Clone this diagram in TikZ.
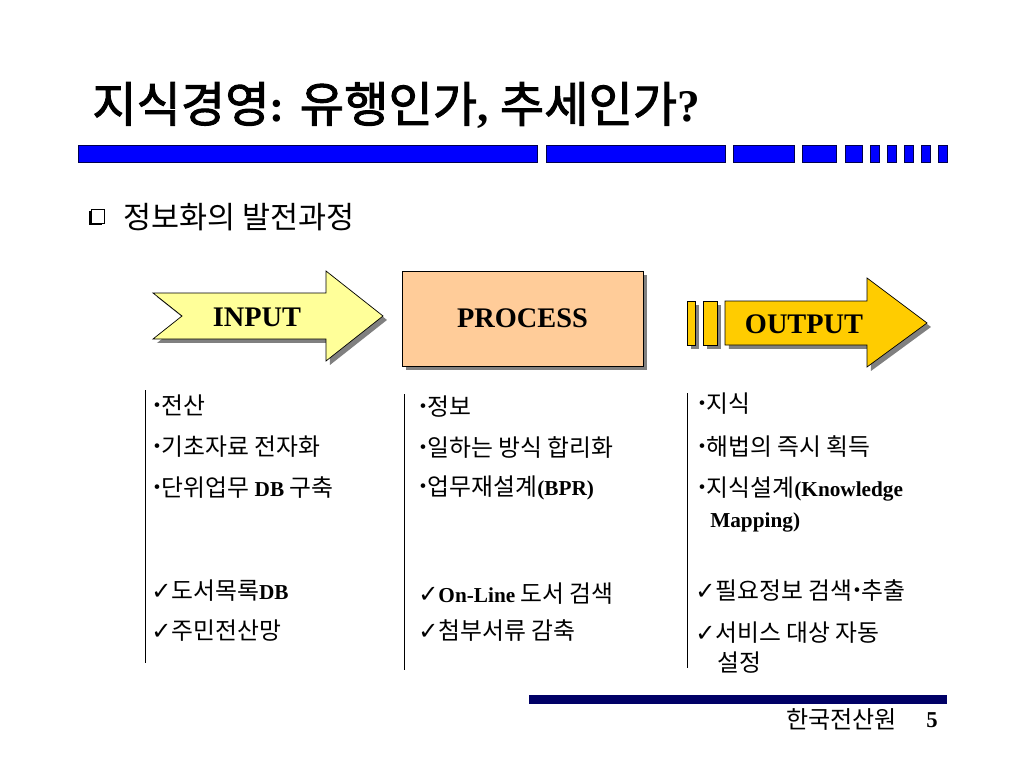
\documentclass[tikz,border=0pt]{standalone}
\usepackage{fontspec}
\setmainfont{Liberation Serif}
\newfontfamily\kr[Scale=1.12]{Noto Sans CJK KR}
\newfontfamily\krt{Noto Sans CJK KR}
\newfontfamily\krhead[FakeBold=2]{Noto Sans CJK KR}
\newfontfamily\sym{DejaVu Sans}
\usetikzlibrary{positioning,shadows}
\definecolor{inputyellow}{HTML}{FFFF99}
\definecolor{processpeach}{HTML}{FFCC99}
\definecolor{outputgold}{HTML}{FFCC00}
\definecolor{barblue}{HTML}{0000FF}
\definecolor{barnavy}{HTML}{000066}
\tikzstyle{boxshadow} = [drop shadow={shadow xshift=2.8pt, shadow yshift=-2.8pt,
    fill=black!50, opacity=1}]
\tikzstyle{arrowbody} = [draw, line width=0.5pt, boxshadow]
\tikzstyle{processbox} = [rectangle, draw, line width=0.5pt, fill=processpeach, boxshadow,
    minimum width=170pt, minimum height=67pt, inner sep=0pt,
    font=\fontsize{20}{24}\selectfont\bfseries]
\tikzstyle{flowtext} = [anchor=base, inner sep=0pt, font=\fontsize{20}{24}\selectfont\bfseries]
\tikzstyle{item} = [anchor=base west, inner sep=0pt, font=\fontsize{15}{18}\selectfont]
\tikzstyle{colline} = [draw, line width=0.7pt]
\tikzstyle{titlebar} = [fill=barblue, draw=black!70!blue, line width=0.5pt]
\newcommand{\chk}{{\sym\fontsize{17}{17}\selectfont ✓}}
\newcommand{\dt}{{\fontsize{20}{20}\selectfont\bfseries ·}}

\begin{document}
\begin{tikzpicture}[x=0.0248cm, y=-0.0248cm, node distance=1cm]
\useasboundingbox[fill=white] (0,0) rectangle (1024,768);

    % Title and bar
\node[anchor=base west, inner sep=0pt, font=\fontsize{32}{38}\selectfont] (title) at (92,122)
  {{\krhead\fontsize{34}{40}\selectfont 지식경영}\textbf{:} {\krhead\fontsize{34}{40}\selectfont 유행인가}\textbf{,}
   {\krhead\fontsize{34}{40}\selectfont 추세인가}\textbf{?}};
\foreach \a/\b in {78/537, 546/725, 733/794, 802/836, 845/862,
    870/879, 887/896, 904/913, 921/930, 938/947}
  \draw[titlebar] (\a,145) rectangle (\b,162);

    % Subtitle
\draw[fill=white, line width=0.7pt, drop shadow={shadow xshift=-1.4pt, shadow yshift=-1.4pt,
    fill=black, opacity=1}] (91,209) rectangle (104,223);
\node[anchor=base west, inner sep=0pt, font=\krt\fontsize{21.5}{26}\selectfont] (sub) at (123,228)
  {정보화의 발전과정};

    % Place nodes
\draw[arrowbody, fill=inputyellow] (153,293) -- (326,293) -- (326,271) -- (383,316)
  -- (326,361) -- (326,339) -- (153,339) -- (182,316) -- cycle;
\node[flowtext] (input) at (257,326) {INPUT};
\node[processbox] (process) at (522.5,318.5) {PROCESS};
\draw[arrowbody, fill=outputgold] (687,301) rectangle (695,345);
\draw[arrowbody, fill=outputgold] (703,301) rectangle (717,345);
\draw[arrowbody, fill=outputgold] (725,301) -- (867,301) -- (867,278) -- (927,323)
  -- (867,367) -- (867,345) -- (725,345) -- cycle;
\node[flowtext] (output) at (804,333) {OUTPUT};

    % Columns
\draw[colline] (145,390) -- (145,663);
\draw[colline] (404,394) -- (404,670);
\draw[colline] (687,393) -- (687,668);

\node[item] (in1) at (152,414) {\dt{\kr 전산}};
\node[item] (in2) at (152,455) {\dt{\kr 기초자료 전자화}};
\node[item] (in3) at (152,496) {\dt{\kr 단위업무} \textbf{DB} {\kr 구축}};
\node[item] (in4) at (151,599) {\chk{\kr 도서목록}\textbf{DB}};
\node[item] (in5) at (151,639) {\chk{\kr 주민전산망}};

\node[item] (pr1) at (418,415) {\dt{\kr 정보}};
\node[item] (pr2) at (418,456) {\dt{\kr 일하는 방식 합리화}};
\node[item] (pr3) at (418,495) {\dt{\kr 업무재설계}\textbf{(BPR)}};
\node[item] (pr4) at (418,602) {\chk\textbf{On-Line} {\kr 도서 검색}};
\node[item] (pr5) at (418,639) {\chk{\kr 첨부서류 감축}};

\node[item] (out1) at (697,412) {\dt{\kr 지식}};
\node[item] (out2) at (697,455) {\dt{\kr 해법의 즉시 획득}};
\node[item] (out3) at (697,496) {\dt{\kr 지식설계}\textbf{(Knowledge}};
\node[item] (out3b) at (710,527) {\textbf{Mapping)}};
\node[item] (out4) at (695,599) {\chk{\kr 필요정보 검색}\dt{\kr 추출}};
\node[item] (out5) at (695,641) {\chk{\kr 서비스 대상 자동}};
\node[item] (out5b) at (717,671) {\kr 설정};

    % Footer
\fill[barnavy] (529,695) rectangle (947,704);
\node[anchor=base west, inner sep=0pt, font=\krt\fontsize{17}{20}\selectfont] (org) at (786,728) {한국전산원};
\node[anchor=base west, inner sep=0pt, font=\fontsize{16}{19}\selectfont\bfseries] (page) at (926,727) {5};
\end{tikzpicture}
\end{document}
